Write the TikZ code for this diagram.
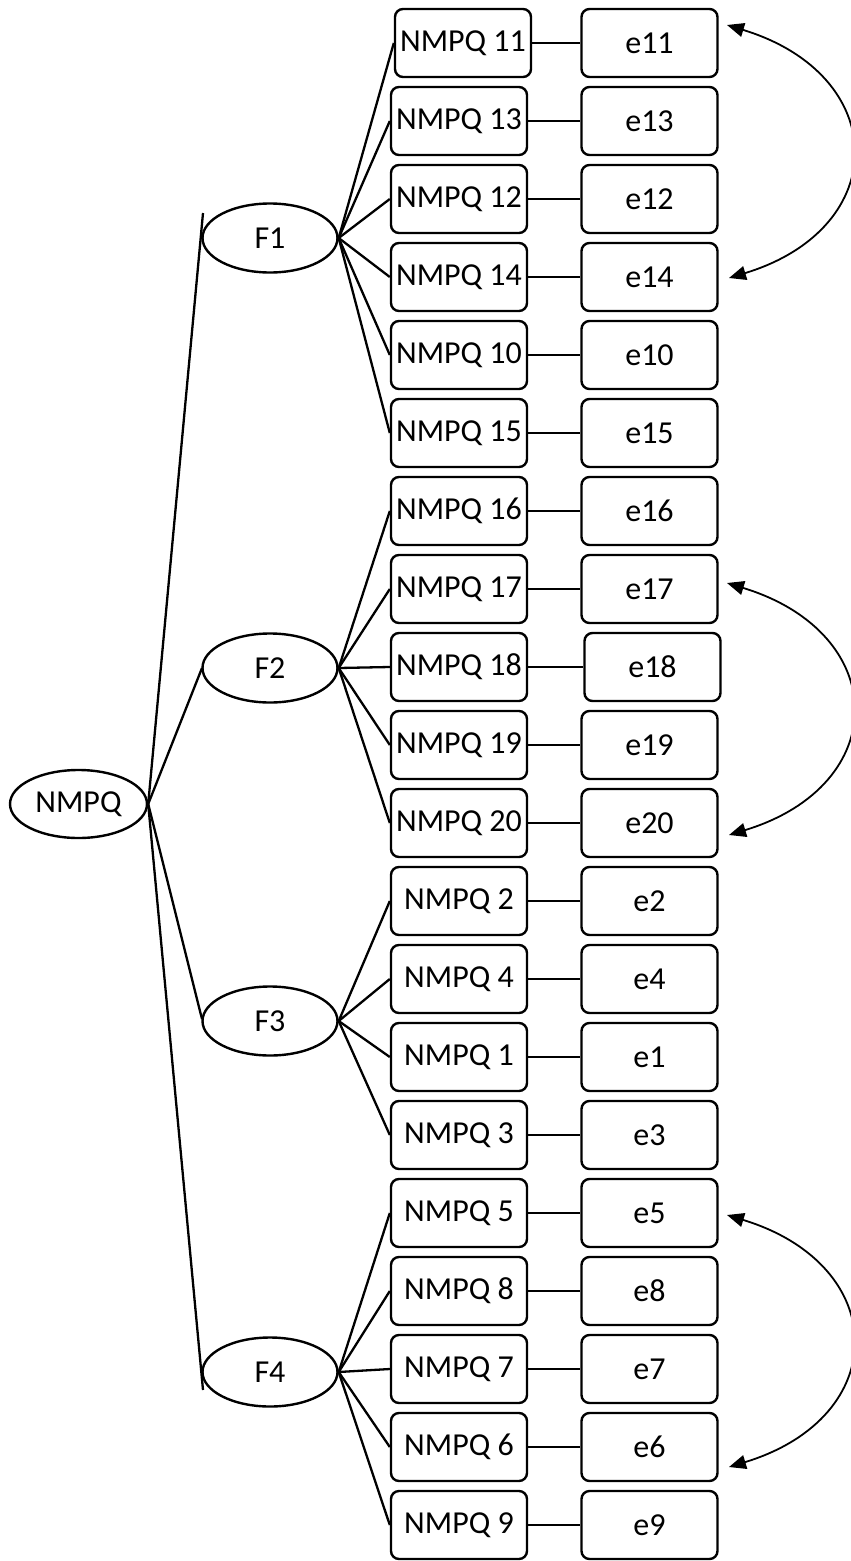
\documentclass[tikz,border=0pt]{standalone}
\usepackage{fontspec}
\setmainfont{Carlito}
\usetikzlibrary{shapes.geometric,arrows.meta}
\tikzset{
  item/.style={draw, line width=2.4pt, rounded corners=8pt, minimum width=136pt, minimum height=68pt, inner sep=0pt, font=\fontsize{32}{38}\selectfont},
  latent/.style={draw, line width=2.4pt, ellipse, minimum width=135pt, minimum height=69pt, inner sep=0pt, font=\fontsize{32}{38}\selectfont},
  link/.style={line width=2.3pt},
  dbl/.style={line width=1.8pt, {Triangle[length=17pt,width=14pt]}-{Triangle[length=17pt,width=14pt]}}
}
\begin{document}
\begin{tikzpicture}[x=1pt,y=-1pt]
\useasboundingbox (0,0) rectangle (851,1561);
% items and errors
\foreach \q/\xl/\xr [count=\i from 0] in {11/463/649.5,13/459/649.5,12/459/649.5,14/459/649.5,10/459/649.5,15/459/649.5,16/459/649.5,17/459/649.5,18/459/652.5,19/459/649.5,20/459/649.5,2/459/649.5,4/459/649.5,1/459/649.5,3/459/649.5,5/459/649.5,8/459/649.5,7/459/649.5,6/459/649.5,9/459/649.5}{
  \node[item] (n\q) at (\xl, 43+78*\i) {NMPQ \q};
  \node[item] (e\q) at (\xr, 43+78*\i) {e\q};
  \draw[link] (n\q) -- (e\q);
}
% latent factors
\node[latent] (F1) at (270,238) {F1};
\node[latent] (F2) at (270,668) {F2};
\node[latent] (F3) at (270,1021) {F3};
\node[latent] (F4) at (270,1372) {F4};
\node[latent, minimum width=137pt, minimum height=68pt] (G) at (78.5,804) {NMPQ};
% loadings
\foreach \q in {11,13,12,14,10,15}{\draw[link] (F1.east) -- (n\q.west);}
\foreach \q in {16,17,18,19,20}{\draw[link] (F2.east) -- (n\q.west);}
\foreach \q in {2,4,1,3}{\draw[link] (F3.east) -- (n\q.west);}
\foreach \q in {5,8,7,6,9}{\draw[link] (F4.east) -- (n\q.west);}
% second order
\coordinate (t1) at (203,213);
\coordinate (t2) at (202,668);
\coordinate (t3) at (202,1019);
\coordinate (t4) at (203,1390);
\foreach \k in {1,2,3,4}{\draw[link] (G.east) -- (t\k);}
% correlated errors
\coordinate (a1) at (727,25);   \coordinate (b1) at (729,278);
\coordinate (a2) at (727,583);  \coordinate (b2) at (729,835);
\coordinate (a3) at (727,1215); \coordinate (b3) at (729,1467);
\draw[dbl] (a1) .. controls (891,75) and (893,228) .. (b1);
\draw[dbl] (a2) .. controls (891,633) and (893,785) .. (b2);
\draw[dbl] (a3) .. controls (891,1265) and (893,1417) .. (b3);
\end{tikzpicture}
\end{document}
